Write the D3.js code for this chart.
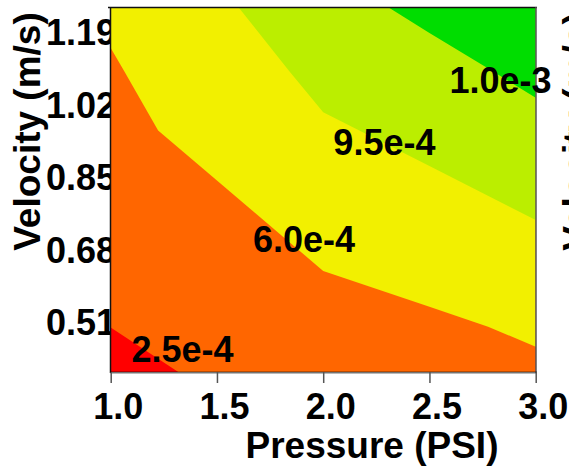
<!DOCTYPE html>
<html>
<head>
<meta charset="utf-8">
<script src="https://cdn.jsdelivr.net/npm/d3@7"></script>
<style>
  body { margin: 0; background: #fff; }
  svg { display: block; }
  text { font-family: "Liberation Sans", Arial, sans-serif; font-weight: bold; fill: #000; }
</style>
</head>
<body>
<svg id="chart" width="569" height="469"></svg>
<script>
// Measurement grid: pressure columns, velocity rows
const pressures = [1.0, 1.5, 2.0, 2.5, 3.0];
const velocities = [0.3, 0.5, 0.7, 0.96, 1.1, 1.3];
// one row per velocity, one value per pressure
const rate = [
  [1.50e-4, 2.21e-4, 3.80e-4, 4.30e-4, 3.75e-4],
  [2.51e-4, 3.90e-4, 4.61e-4, 5.15e-4, 6.69e-4],
  [3.70e-4, 4.484e-4, 6.733e-4, 8.77e-4, 9.393e-4],
  [5.00e-4, 7.24e-4, 9.323e-4, 9.844e-4, 9.949e-4],
  [5.62e-4, 8.66e-4, 9.90e-4, 9.94e-4, 10.042e-4],
  [7.03e-4, 9.48e-4, 9.97e-4, 10.075e-4, 10.20e-4]
];
const levels = [2.5e-4, 6.0e-4, 9.5e-4, 1.0e-3];
// where each contour level is labelled (pressure, velocity)
const labelPressure = [1.338, 1.91, 2.288, 2.834];
const labelVelocity = [0.447, 0.705, 0.932, 1.0775];
const xTicks = [1.0, 1.5, 2.0, 2.5, 3.0];
const yTicks = [0.51, 0.68, 0.85, 1.02, 1.19];
const bandColors = ["#ff0000", "#ff6600", "#f2f000", "#bbee00", "#00dd00"];

(function draw() {
  const svg = d3.select("#chart");
  const pLeft = 110.5, pRight = 536, pTop = 8, pBottom = 372;

  const x = d3.scaleLinear().domain([1.0, 3.0]).range([110.7, 535.7]);
  const y = d3.scaleLinear().domain([0.3939, 1.2474]).range([pBottom, pTop]);

  // y tick labels sit beneath the plot area, which covers their right edge
  svg.append("g").selectAll("text").data(yTicks).join("text")
    .attr("x", 116).attr("y", d => y(d)).attr("dy", "0.35em")
    .attr("text-anchor", "end").attr("font-size", 36)
    .text(d3.format(".2f"));

  svg.append("text")
    .attr("transform", "translate(40,131.5) rotate(-90)")
    .attr("text-anchor", "middle").attr("font-size", 37)
    .text("Velocity (m/s)");

  // neighbouring panel's axis title at the right edge
  svg.append("text")
    .attr("transform", "translate(589,131.5) rotate(-90)")
    .attr("text-anchor", "middle").attr("font-size", 37)
    .text("Velocity (m/s)");

  svg.append("clipPath").attr("id", "plot-clip")
    .append("rect").attr("x", pLeft).attr("y", pTop)
    .attr("width", pRight - pLeft).attr("height", pBottom - pTop);

  const plot = svg.append("g").attr("clip-path", "url(#plot-clip)");

  plot.append("rect")
    .attr("x", pLeft).attr("y", pTop)
    .attr("width", pRight - pLeft).attr("height", pBottom - pTop)
    .attr("fill", bandColors[0]);

  const nx = pressures.length, ny = velocities.length;
  const gridP = d3.scaleLinear().domain(d3.range(nx).map(i => i + 0.5)).range(pressures).clamp(true);
  const gridV = d3.scaleLinear().domain(d3.range(ny).map(j => j + 0.5)).range(velocities).clamp(true);

  const contours = d3.contours().size([nx, ny]).thresholds(levels)(rate.flat());

  const path = d3.geoPath(d3.geoTransform({
    point(px, py) { this.stream.point(x(gridP(px)), y(gridV(py))); }
  }));

  plot.selectAll("path.band").data(contours).join("path")
    .attr("class", "band")
    .attr("d", path)
    .attr("fill", (d, i) => bandColors[i + 1]);

  // frame
  svg.append("line").attr("x1", 108).attr("x2", 537).attr("y1", 7.5).attr("y2", 7.5)
    .attr("stroke", "#111").attr("stroke-width", 1.5);
  svg.append("line").attr("x1", pLeft).attr("x2", pLeft).attr("y1", 7).attr("y2", pBottom + 1)
    .attr("stroke", "#111").attr("stroke-width", 1.5);
  svg.append("line").attr("x1", pRight).attr("x2", pRight).attr("y1", 7).attr("y2", pBottom + 1)
    .attr("stroke", "#555").attr("stroke-width", 1.5);
  svg.append("line").attr("x1", pLeft).attr("x2", pRight + 1).attr("y1", pBottom + 0.5).attr("y2", pBottom + 0.5)
    .attr("stroke", "#000").attr("stroke-opacity", 0.55).attr("stroke-width", 2);

  // x axis
  const xAxis = svg.append("g").attr("transform", `translate(0,${pBottom})`)
    .call(d3.axisBottom(x).tickValues(xTicks).tickFormat(d3.format(".1f")).tickSize(11).tickPadding(0));
  xAxis.select(".domain").remove();
  xAxis.selectAll(".tick line").attr("stroke", "#555").attr("stroke-width", 1.5);
  xAxis.selectAll(".tick text")
    .attr("font-size", 36).attr("fill", "#000")
    .attr("dy", null).attr("y", 47).attr("dx", 7);
  xAxis.attr("font-family", null).attr("font-size", null);

  svg.append("text")
    .attr("x", 372).attr("y", 458)
    .attr("text-anchor", "middle").attr("font-size", 37)
    .text("Pressure (PSI)");

  // contour level labels
  svg.append("g").selectAll("text").data(levels).join("text")
    .attr("x", (d, i) => x(labelPressure[i]))
    .attr("y", (d, i) => y(labelVelocity[i]))
    .attr("dy", "0.35em").attr("text-anchor", "middle").attr("font-size", 36)
    .text(d3.format(".1e"));
})();
</script>
</body>
</html>
